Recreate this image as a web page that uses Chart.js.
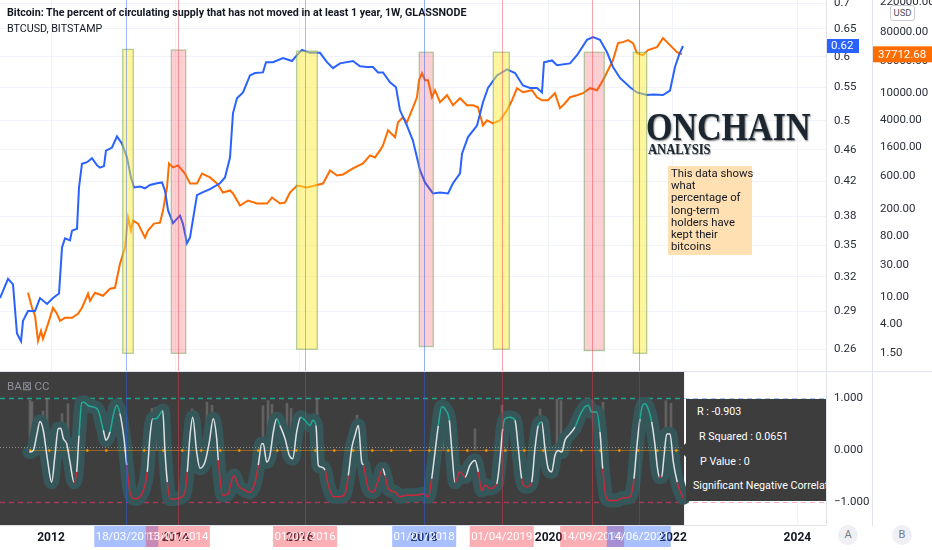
<!DOCTYPE html>
<html><head><meta charset="utf-8">
<script src="https://cdn.jsdelivr.net/npm/chart.js@4.4.1/dist/chart.umd.min.js"></script>
<style>
html,body{margin:0;padding:0;background:#fff;width:932px;height:550px;overflow:hidden;font-family:Roboto,'Open Sans',sans-serif;}
canvas{position:absolute;left:0;}
#cTop{top:0;}
#cBot{top:372px;}
.ov{position:absolute;white-space:nowrap;}
.sep{position:absolute;left:0;top:371px;width:932px;height:1px;background:#e0e3eb;}
.t1{left:7px;top:6px;font-weight:bold;font-size:10.7px;color:#131722;}
.t2{left:7px;top:22px;font-size:10.7px;color:#131722;}
.logo{left:646px;top:106px;font:bold 41px 'Liberation Serif','DejaVu Serif',serif;line-height:41px;color:#1b2630;transform:scaleX(0.83);transform-origin:left top;text-shadow:1px 1px 2px rgba(0,0,0,0.55);}
.logo2{left:648px;top:143px;font:bold 14px 'Liberation Serif','DejaVu Serif',serif;line-height:14px;color:#1b2630;transform:scaleX(0.9);transform-origin:left top;text-shadow:1px 1px 1px rgba(0,0,0,0.4);}
.info{left:668px;top:166px;width:78px;height:85px;padding:2px 3px;background:#ffe0b2;font-size:11.3px;line-height:12.2px;color:#131722;}
.bacc{left:7px;top:379px;font-size:11.5px;color:#8d9099;}
.stats{left:686px;top:399px;width:140px;height:102px;background:#3d3d3d;overflow:hidden;color:#fff;font-size:10.7px;}
.stats div{position:absolute;white-space:nowrap;}
.arrow{position:absolute;left:679px;top:443px;width:0;height:0;border-top:7px solid transparent;border-bottom:7px solid transparent;border-right:7px solid #3d3d3d;}
.usd{left:890px;top:5px;width:23px;height:14px;border:1px solid #c9ccd3;border-radius:3px;background:#fff;font-size:9.5px;line-height:14px;text-align:center;color:#50535e;}
.btn{top:525px;width:20px;height:20px;border-radius:50%;background:#eef0f5;color:#787b86;font-size:11px;line-height:20px;text-align:center;}
</style></head>
<body>
<canvas id="cTop" width="932" height="371"></canvas>
<canvas id="cBot" width="932" height="178"></canvas>
<div class="sep"></div>
<div class="ov t1">Bitcoin: The percent of circulating supply that has not moved in at least 1 year, 1W, GLASSNODE</div>
<div class="ov t2">BTCUSD, BITSTAMP</div>
<div class="ov logo">ONCHAIN</div>
<div class="ov logo2">ANALYSIS</div>
<div class="ov info">This data shows<br>what<br>percentage of<br>long-term<br>holders have<br>kept their<br>bitcoins</div>
<div class="ov bacc">BA⊠ CC</div>
<div class="arrow"></div>
<div class="ov stats">
  <div style="left:11px;top:6px">R : -0.903</div>
  <div style="left:13px;top:31px">R Squared : 0.0651</div>
  <div style="left:14px;top:56px">P Value : 0</div>
  <div style="left:7px;top:80px">Significant Negative Correlation</div>
</div>
<div class="ov usd">USD</div>
<div class="ov btn" style="left:838px">A</div>
<div class="ov btn" style="left:892px">B</div>
<script>
// ---------------- data ----------------
const xMin = 2011.18, xMax = 2024.46;
const yearTicks = [2012, 2014, 2016, 2018, 2020, 2022, 2024];
const percentTicks = [0.26,0.29,0.32,0.35,0.38,0.42,0.46,0.5,0.55,0.6,0.65,0.7];
const priceTicks = [1.5,4,10,30,80,200,600,1600,4000,10000,30000,80000,220000];
const oscTicks = [-1,0,1];

// percent of supply not moved >= 1 year (blue)
const blueYears = [2011.180,2011.309,2011.389,2011.453,2011.518,2011.550,2011.630,2011.743,2011.823,2011.936,
2012.032,2012.129,2012.177,2012.225,2012.305,2012.338,2012.418,2012.450,2012.498,2012.579,
2012.659,2012.740,2012.788,2012.852,2012.884,2012.981,2013.061,2013.141,2013.222,2013.286,
2013.334,2013.431,2013.511,2013.592,2013.704,2013.785,2013.833,2013.881,2013.961,2014.074,
2014.122,2014.186,2014.235,2014.347,2014.428,2014.556,2014.717,2014.797,2014.878,2014.926,
2014.990,2015.087,2015.199,2015.280,2015.408,2015.457,2015.569,2015.730,2015.875,2015.955,
2016.035,2016.164,2016.325,2016.437,2016.534,2016.646,2016.855,2016.968,2017.080,2017.177,
2017.257,2017.338,2017.450,2017.547,2017.611,2017.723,2017.820,2017.932,2018.013,2018.141,
2018.254,2018.383,2018.463,2018.576,2018.608,2018.704,2018.849,2018.945,2019.026,2019.170,
2019.331,2019.460,2019.588,2019.701,2019.814,2019.894,2019.926,2020.055,2020.135,2020.344,
2020.457,2020.617,2020.714,2020.826,2020.939,2021.035,2021.148,2021.309,2021.421,2021.582,
2021.682,2021.839,2021.952,2022.032,2022.096,2022.161];
const blueValues = [0.301,0.318,0.313,0.272,0.266,0.282,0.290,0.290,0.301,0.296,
0.301,0.305,0.348,0.357,0.355,0.365,0.367,0.413,0.442,0.444,
0.449,0.440,0.437,0.439,0.459,0.463,0.478,0.468,0.450,0.425,
0.413,0.414,0.412,0.416,0.418,0.419,0.409,0.387,0.373,0.381,
0.372,0.352,0.358,0.404,0.407,0.411,0.418,0.425,0.450,0.511,
0.533,0.542,0.569,0.573,0.574,0.591,0.591,0.598,0.593,0.603,
0.612,0.607,0.607,0.591,0.581,0.589,0.593,0.584,0.583,0.583,
0.574,0.574,0.558,0.550,0.515,0.493,0.472,0.434,0.419,0.406,
0.407,0.406,0.418,0.430,0.455,0.477,0.493,0.527,0.549,0.569,
0.579,0.573,0.553,0.549,0.549,0.542,0.591,0.594,0.586,0.589,
0.603,0.630,0.635,0.630,0.608,0.583,0.565,0.550,0.542,0.538,
0.539,0.538,0.545,0.583,0.603,0.619];

// BTCUSD Bitstamp weekly close (orange, log scale)
const priceYears = [2011.630,2011.695,2011.743,2011.791,2011.839,2011.871,2011.952,2012.032,2012.096,2012.145,
2012.225,2012.338,2012.434,2012.498,2012.595,2012.627,2012.707,2012.836,2012.949,2013.029,
2013.109,2013.190,2013.238,2013.286,2013.318,2013.399,2013.511,2013.559,2013.656,2013.752,
2013.801,2013.865,2013.897,2013.961,2014.042,2014.154,2014.235,2014.347,2014.428,2014.556,
2014.669,2014.765,2014.878,2014.926,2015.039,2015.167,2015.312,2015.473,2015.553,2015.682,
2015.762,2015.842,2015.955,2016.116,2016.244,2016.373,2016.486,2016.598,2016.695,2016.855,
2017.016,2017.129,2017.209,2017.289,2017.338,2017.418,2017.531,2017.579,2017.659,2017.723,
2017.820,2017.884,2017.916,2017.965,2018.013,2018.061,2018.125,2018.174,2018.254,2018.367,
2018.463,2018.576,2018.688,2018.785,2018.865,2018.945,2019.010,2019.106,2019.219,2019.331,
2019.412,2019.492,2019.588,2019.733,2019.813,2019.894,2019.990,2020.103,2020.183,2020.264,
2020.344,2020.457,2020.553,2020.666,2020.778,2020.875,2020.955,2021.035,2021.116,2021.196,
2021.277,2021.357,2021.421,2021.518,2021.598,2021.743,2021.839,2021.952,2022.064,2022.145];
const priceValues = [11.6,6.95,5.29,2.26,3.18,2.42,4.03,6.95,5.67,4.47,
4.95,4.95,5.67,6.95,11.2,8.82,11.6,10.45,13.3,13.7,
31.0,53.5,148,95.4,134,121,75.2,95.4,121,125,
188,412,931,813,870,662,471,471,662,579,
471,347,372,336,223,265,239,239,293,239,
247,347,441,412,441,471,734,619,641,786,
931,1223,1142,1449,1718,2864,2258,3760,4457,3760,
6260,8790,15700,19900,15700,15700,8790,11150,7420,9410,
6700,8500,6700,6700,6260,3390,4020,3630,4020,5650,
7940,11950,10400,11150,8790,7940,7940,10080,6050,7170,
8790,9410,10080,11950,11150,15700,22000,30900,55100,57000,
61000,55100,39300,36700,43500,48100,65300,51500,40600,37712.68];

// rolling correlation coefficient (lower pane)
const oscYears = [2011.651,2011.715,2011.770,2011.823,2011.876,2011.941,2012.011,2012.064,2012.117,2012.156,
2012.198,2012.252,2012.305,2012.370,2012.413,2012.450,2012.494,2012.531,2012.600,2012.680,
2012.760,2012.841,2012.884,2012.949,2013.002,2013.056,2013.109,2013.174,2013.217,2013.270,
2013.350,2013.431,2013.495,2013.548,2013.592,2013.635,2013.688,2013.741,2013.796,2013.833,
2013.870,2013.913,2013.994,2014.074,2014.154,2014.191,2014.235,2014.278,2014.342,2014.395,
2014.476,2014.545,2014.609,2014.664,2014.690,2014.760,2014.850,2014.878,2014.942,2015.011,
2015.119,2015.199,2015.280,2015.333,2015.387,2015.413,2015.468,2015.521,2015.574,2015.629,
2015.682,2015.762,2015.831,2015.886,2015.950,2016.014,2016.084,2016.164,2016.207,2016.260,
2016.297,2016.352,2016.405,2016.458,2016.539,2016.646,2016.727,2016.780,2016.834,2016.887,
2016.941,2016.995,2017.021,2017.101,2017.182,2017.262,2017.333,2017.370,2017.423,2017.531,
2017.611,2017.719,2017.879,2017.986,2018.066,2018.121,2018.174,2018.227,2018.281,2018.350,
2018.404,2018.442,2018.495,2018.576,2018.656,2018.736,2018.817,2018.870,2018.924,2018.977,
2019.058,2019.166,2019.219,2019.262,2019.299,2019.380,2019.460,2019.513,2019.567,2019.648,
2019.728,2019.781,2019.834,2019.889,2019.942,2019.995,2020.050,2020.103,2020.156,2020.211,
2020.264,2020.344,2020.424,2020.505,2020.585,2020.638,2020.693,2020.773,2020.826,2020.870,
2020.923,2020.987,2021.095,2021.201,2021.309,2021.373,2021.416,2021.469,2021.513,2021.550,
2021.603,2021.657,2021.711,2021.748,2021.780,2021.818,2021.855,2021.899,2021.952,2022.005,
2022.069,2022.140,2022.166];
const oscValues = [-0.04,-0.01,0.28,0.55,0.38,-0.17,-0.62,-0.10,0.41,0.42,
0.22,0.12,-0.23,-0.62,-0.42,0.28,0.91,0.92,0.85,0.83,
0.76,0.38,0.19,0.35,0.67,0.86,0.70,0.22,-0.29,-0.81,
-0.94,-0.90,-0.74,-0.42,0.28,0.60,0.60,0.67,0.76,-0.04,
-0.62,-0.94,-0.94,-0.92,-0.81,-0.42,0.28,0.63,-0.04,-0.35,
-0.23,0.15,0.60,0.22,-0.20,-0.87,-0.84,-0.71,-0.49,-0.68,
-0.78,-0.81,-0.62,-0.29,0.12,0.12,-0.23,-0.10,0.35,0.60,
0.47,0.22,-0.10,-0.17,0.35,0.63,0.57,0.47,0.57,0.47,
-0.29,-0.33,-0.39,-0.68,-0.90,-0.90,-0.84,-0.49,0.03,0.28,
0.47,-0.23,-0.29,-0.74,-0.81,-0.58,-0.36,-0.49,-0.74,-0.81,
-0.90,-0.87,-0.87,-0.84,-0.90,-0.55,-0.04,0.47,0.83,0.76,
0.57,0.03,-0.62,-0.42,-0.52,-0.29,-0.20,-0.42,-0.78,-0.68,
-0.74,-0.65,-0.17,0.41,0.60,0.63,0.57,0.03,-0.55,-0.71,
-0.62,0.03,0.47,0.54,0.03,-0.36,-0.42,-0.10,-0.01,-0.04,
0.19,0.31,0.44,0.67,0.83,0.86,0.73,0.73,0.35,-0.36,
-0.90,-0.97,-0.97,-0.92,-0.90,-0.55,0.03,0.60,0.86,0.89,
0.79,0.54,0.09,-0.33,-0.52,-0.52,-0.13,0.31,0.31,-0.23,
-0.62,-0.87,-0.92];

// raw correlation spikes (grey columns)
const spikeYears = [2011.662,2011.695,2011.871,2011.936,2012.177,2012.273,2013.624,2013.688,2014.267,2014.508,2014.588,2015.408,2015.489,2015.553,2015.794,2015.859,2016.277,2016.920,2018.302,2018.817,2019.251,2019.862,2020.135,2020.199,2020.875,2021.887,2021.968];
const spikeTops = [0.96,0.93,0.75,0.99,0.70,0.89,0.80,0.82,0.79,0.92,0.86,0.85,0.95,0.88,0.90,0.80,0.98,0.67,0.89,0.41,0.86,0.79,0.98,0.95,0.92,0.95,0.90];

// highlighted zones (rectangles drawn on the chart)
const zoneStart  = [2013.153,2013.934,2015.950,2017.921,2019.111,2020.574,2021.362];
const zoneEnd    = [2013.323,2014.166,2016.281,2018.146,2019.368,2020.895,2021.577];
const zoneTop    = [0.613,0.612,0.610,0.608,0.608,0.608,0.608];
const zoneBottom = [0.257,0.257,0.260,0.262,0.260,0.259,0.257];
const zoneKind   = ['yellow','pink','yellow','pink','yellow','pink','yellow'];

// vertical date markers
const markerYears  = [2013.21,2014.04,2016.085,2018.0,2019.247,2020.70,2021.45];
const markerLabels = ['18/03/2013','13/01/2014','01/02/2016','01/01/2018','01/04/2019','14/09/2020','14/06/2021'];
const markerKind   = ['blue','red','red','blue','red','red','blue'];

// reference levels in the lower pane
const oscUpper = 1, oscLower = -1, oscMean = 0.06, oscZero = 0;

// ---------------- charts ----------------
Chart.defaults.font.family = "Roboto, 'Open Sans', sans-serif";
Chart.defaults.animation = false;

const fixedTicks = vals => scale => { scale.ticks = vals.map(v => ({value: v})); };
const toXY = (xs, ys) => xs.map((x, i) => ({x: x, y: ys[i]}));
const markerColor = k => k === 'blue' ? 'rgba(41,98,255,0.45)' : 'rgba(242,54,69,0.45)';
const boxColor = k => k === 'blue' ? 'rgba(41,98,255,0.4)' : 'rgba(242,54,69,0.4)';
const noPad = s => { s.paddingTop = 0; s.paddingBottom = 0; s.paddingLeft = 0; s.paddingRight = 0; };

const axisFont = {size: 11.5};
const axisColor = '#2a2e39';

const topPlugin = {
  id: 'topOverlay',
  afterDatasetsDraw(chart) {
    const {ctx, chartArea: a, scales} = chart;
    const x = scales.x, y = scales.y;
    ctx.save();
    ctx.beginPath(); ctx.rect(a.left, a.top, a.right - a.left, a.bottom - a.top); ctx.clip();
    zoneStart.forEach((s, i) => {
      const x0 = x.getPixelForValue(s), x1 = x.getPixelForValue(zoneEnd[i]);
      const y0 = y.getPixelForValue(zoneTop[i]), y1 = y.getPixelForValue(zoneBottom[i]);
      ctx.fillStyle = zoneKind[i] === 'yellow' ? 'rgba(255,235,59,0.5)' : 'rgba(242,54,69,0.24)';
      ctx.fillRect(x0, y0, x1 - x0, y1 - y0);
      ctx.strokeStyle = 'rgba(120,165,95,0.55)'; ctx.lineWidth = 1.3;
      ctx.strokeRect(x0, y0, x1 - x0, y1 - y0);
    });
    markerYears.forEach((m, i) => {
      const px = Math.round(x.getPixelForValue(m)) + 0.5;
      ctx.strokeStyle = markerColor(markerKind[i]); ctx.lineWidth = 1;
      ctx.beginPath(); ctx.moveTo(px, a.top); ctx.lineTo(px, a.bottom); ctx.stroke();
    });
    ctx.restore();
  },
  afterDraw(chart) {
    const {ctx, scales} = chart;
    const y = scales.y, yp = scales.yPrice;
    ctx.save();
    ctx.font = '11.5px Roboto, sans-serif'; ctx.textBaseline = 'middle'; ctx.textAlign = 'left';
    const bv = blueValues[blueValues.length - 1];
    const by = y.getPixelForValue(bv);
    ctx.fillStyle = '#2962ff'; ctx.fillRect(y.left + 1, by - 7, 32, 14);
    ctx.fillStyle = '#fff'; ctx.fillText(bv.toFixed(2), y.left + 5, by + 0.5);
    const pv = priceValues[priceValues.length - 1];
    const py = yp.getPixelForValue(pv);
    ctx.fillStyle = '#ff6d00'; ctx.fillRect(yp.left + 1, py - 8, yp.width, 16);
    ctx.fillStyle = '#fff'; ctx.fillText(pv.toFixed(2), yp.left + 6, py + 0.5);
    ctx.restore();
  }
};

new Chart(document.getElementById('cTop'), {
  type: 'line',
  data: {
    datasets: [
      {label: 'Supply not moved 1y', data: toXY(blueYears, blueValues), yAxisID: 'y',
       borderColor: '#2962ff', borderWidth: 2, pointRadius: 0, order: 0, tension: 0},
      {label: 'BTCUSD', data: toXY(priceYears, priceValues), yAxisID: 'yPrice',
       borderColor: '#ff6d00', borderWidth: 2, pointRadius: 0, order: 1, tension: 0}
    ]
  },
  options: {
    responsive: false, animation: false, events: [],
    layout: {padding: 0},
    plugins: {legend: {display: false}, tooltip: {enabled: false}},
    scales: {
      x: {type: 'linear', min: xMin, max: xMax, offset: false,
          afterBuildTicks: fixedTicks(yearTicks), afterFit: s => { noPad(s); s.height = 0; },
          ticks: {display: false}, grid: {color: '#f0f3fa', drawTicks: false}, border: {display: false}},
      y: {type: 'logarithmic', position: 'right', min: 0.2443, max: 0.7061,
          afterBuildTicks: fixedTicks(percentTicks), afterFit: s => { noPad(s); s.width = 46; },
          ticks: {autoSkip: false, padding: 8, font: axisFont, color: axisColor, callback: v => String(v)},
          grid: {color: '#f0f3fa', drawTicks: false}, border: {display: true, color: '#e0e3eb'}},
      yPrice: {type: 'logarithmic', position: 'right', min: 0.815, max: 238000,
          afterBuildTicks: fixedTicks(priceTicks), afterFit: s => { noPad(s); s.width = 60; },
          ticks: {autoSkip: false, padding: 8, font: axisFont, color: axisColor, callback: v => Number(v).toFixed(2)},
          grid: {display: false, drawTicks: false}, border: {display: true, color: '#e0e3eb'}}
    }
  },
  plugins: [topPlugin]
});

const darkEnd = oscYears[oscYears.length - 1] + 0.012;

const hline = (ctx, o, v, x0, x1, color, dash, w) => {
  const py = Math.round(o.getPixelForValue(v)) + 0.5;
  ctx.strokeStyle = color; ctx.lineWidth = w; ctx.setLineDash(dash);
  ctx.beginPath(); ctx.moveTo(x0, py); ctx.lineTo(x1, py); ctx.stroke();
};

const botPlugin = {
  id: 'botOverlay',
  beforeDatasetsDraw(chart) {
    const {ctx, chartArea: a, scales} = chart;
    const x = scales.x, o = scales.osc;
    const xe = x.getPixelForValue(darkEnd);
    ctx.save();
    ctx.fillStyle = '#3e3e3e';
    ctx.fillRect(a.left, a.top, xe - a.left, a.bottom - a.top);
    hline(ctx, o, oscUpper, a.left, xe, '#1fa390', [5, 4], 1.3);
    hline(ctx, o, oscUpper, xe, a.right, 'rgba(100,160,240,0.6)', [5, 4], 1);
    hline(ctx, o, oscLower, a.left, xe, '#a8385a', [5, 4], 1.3);
    hline(ctx, o, oscLower, xe, a.right, 'rgba(240,120,160,0.6)', [5, 4], 1);
    ctx.restore();
  },
  afterDatasetDraw(chart, args) {
    if (chart.data.datasets[args.index].label !== 'band') return;
    const {ctx, scales} = chart;
    const x = scales.x, o = scales.osc;
    const xe = x.getPixelForValue(darkEnd);
    const xs = x.getPixelForValue(oscYears[0]);
    ctx.save();
    hline(ctx, o, oscMean, chart.chartArea.left, xe, 'rgba(170,170,170,0.7)', [1, 2], 1);
    hline(ctx, o, oscZero, xs, xe, 'rgba(255,152,0,0.45)', [], 1.2);
    hline(ctx, o, oscZero, xs, xe, '#ff9800', [2, 17], 2.5);
    ctx.restore();
  },
  afterDatasetsDraw(chart) {
    const {ctx, chartArea: a, scales} = chart;
    const x = scales.x;
    ctx.save();
    markerYears.forEach((m, i) => {
      const px = Math.round(x.getPixelForValue(m)) + 0.5;
      ctx.strokeStyle = markerColor(markerKind[i]); ctx.lineWidth = 1;
      ctx.beginPath(); ctx.moveTo(px, a.top); ctx.lineTo(px, a.bottom); ctx.stroke();
    });
    ctx.restore();
  },
  afterDraw(chart) {
    const {ctx, chartArea: a, scales} = chart;
    const x = scales.x;
    ctx.save();
    ctx.font = '11.5px Roboto, sans-serif'; ctx.textAlign = 'center'; ctx.textBaseline = 'middle';
    markerYears.forEach((m, i) => {
      const cx = x.getPixelForValue(m);
      ctx.fillStyle = boxColor(markerKind[i]);
      ctx.fillRect(cx - 32, a.bottom + 1, 64, 21);
      ctx.fillStyle = '#ffffff';
      ctx.fillText(markerLabels[i], cx, a.bottom + 12);
    });
    ctx.restore();
  }
};

const segColor = c => {
  const m = (c.p0.parsed.y + c.p1.parsed.y) / 2;
  return m > 0.5 ? '#22ab94' : (m < -0.45 ? '#c9283a' : '#dfe1e6');
};

new Chart(document.getElementById('cBot'), {
  type: 'line',
  data: {
    datasets: [
      {type: 'line', label: 'CC', data: toXY(oscYears, oscValues), yAxisID: 'osc',
       borderWidth: 1.5, pointRadius: 0, order: 0, cubicInterpolationMode: 'monotone',
       borderColor: '#dfe1e6', segment: {borderColor: segColor}},
      {type: 'line', label: 'band', data: toXY(oscYears, oscValues), yAxisID: 'osc',
       borderWidth: 14, pointRadius: 0, order: 2, cubicInterpolationMode: 'monotone',
       borderColor: '#36575a', borderJoinStyle: 'round', borderCapStyle: 'round'},
      {type: 'bar', label: 'raw', data: spikeYears.map((s, i) => ({x: s, y: [0, spikeTops[i]]})), yAxisID: 'osc',
       backgroundColor: 'rgba(150,150,150,0.4)', barThickness: 2, grouped: false, order: 3}
    ]
  },
  options: {
    responsive: false, animation: false, events: [],
    layout: {padding: 0},
    plugins: {legend: {display: false}, tooltip: {enabled: false}},
    scales: {
      x: {type: 'linear', min: xMin, max: xMax, offset: false,
          afterBuildTicks: fixedTicks(yearTicks), afterFit: s => { noPad(s); s.height = 25; },
          ticks: {padding: 6, font: {size: 12, weight: 'bold'}, color: '#131722', maxRotation: 0, autoSkip: false,
                  callback: v => String(v)},
          grid: {color: '#f0f3fa', drawTicks: false, offset: false}, border: {display: true, color: '#e0e3eb'}},
      osc: {type: 'linear', position: 'right', min: -1.442, max: 1.5,
          afterBuildTicks: fixedTicks(oscTicks), afterFit: s => { noPad(s); s.width = 46; },
          ticks: {autoSkip: false, padding: 8, font: axisFont, color: axisColor,
                  callback: v => Number(v).toFixed(3).replace('-', '\u2212')},
          grid: {display: false, drawTicks: false}, border: {display: true, color: '#e0e3eb'}},
      pad: {type: 'linear', position: 'right', afterFit: s => { noPad(s); s.width = 60; },
          ticks: {display: false}, grid: {display: false, drawTicks: false}, border: {display: true, color: '#e0e3eb'}}
    }
  },
  plugins: [botPlugin]
});
</script>
</body></html>
